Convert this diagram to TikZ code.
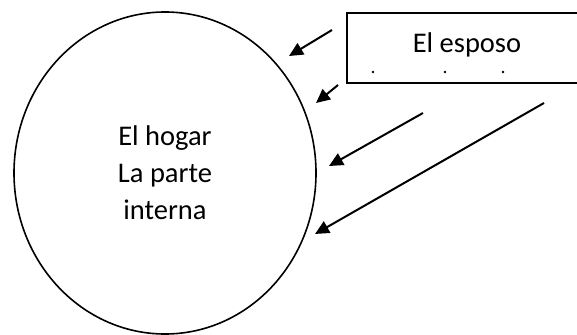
\documentclass[tikz,border=0pt]{standalone}
\usepackage{fontspec}
\setmainfont{Carlito}
\usetikzlibrary{shapes.geometric,arrows.meta}
\begin{document}
\begin{tikzpicture}[x=1pt,y=-1pt,font=\fontsize{28.5}{37}\selectfont,line width=1.6pt,
		flecha/.style={-{Triangle[length=14pt,width=13pt]},line width=2pt}]
			\useasboundingbox (0,0) rectangle (577,334);
			\path (165,173) node [draw,ellipse,minimum width=302,minimum height=322,align=center] (hogar) {El hogar\\La parte\\interna};
			%%%
			\draw (347,13) rectangle (605,83);
			\path (467,45) node (esposo) {El esposo};
			\foreach \x in {373,445,503} \fill (\x,72) circle (1.3);
			%%%
			\coordinate (a1) at (332,30); \coordinate (b1) at (289,56);
			\coordinate (a2) at (338,85); \coordinate (b2) at (316,103);
			\coordinate (a3) at (423,113); \coordinate (b3) at (329,166);
			\coordinate (a4) at (544,103); \coordinate (b4) at (315,234);
			\foreach \i in {1,...,4} \draw[flecha] (a\i)--(b\i);
		\end{tikzpicture}
\end{document}
